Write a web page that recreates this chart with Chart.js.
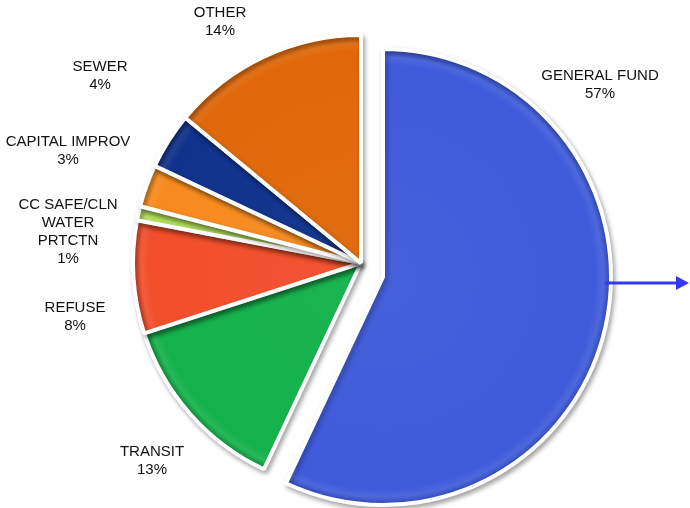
<!DOCTYPE html>
<html>
<head>
<meta charset="utf-8">
<script src="https://cdn.jsdelivr.net/npm/chart.js@4"></script>
<style>
  html, body { margin: 0; padding: 0; background: #fff; }
  #wrap { width: 690px; height: 508px; }
</style>
</head>
<body>
<div id="wrap"><canvas id="fundChart" width="690" height="508"></canvas></div>
<script>
// Fund shares (percent)
const funds = ['GENERAL FUND', 'TRANSIT', 'REFUSE', ['CC SAFE/CLN', 'WATER', 'PRTCTN'], 'CAPITAL IMPROV', 'SEWER', 'OTHER'];
const shares = [57, 13, 8, 1, 3, 4, 14];
const fills = ['#3f5bd9', '#14b24c', '#f24f2c', '#b6e35c', '#f78b1f', '#10328c', '#e0680a'];

// where each caption sits (centre of the text block)
const labelAt = [[600, 76], [152, 452], [75, 308], [68, 205], [68, 142], [100, 67], [220, 13]];

// general fund pulled out of the pie
const pullX = 22, pullY = 14;

function shade(hex, amt) {
  const n = parseInt(hex.slice(1), 16);
  const f = c => Math.max(0, Math.min(255, Math.round(amt < 0 ? c * (1 + amt) : c + (255 - c) * amt)));
  const r = f(n >> 16), g = f((n >> 8) & 255), b = f(n & 255);
  return `rgb(${r},${g},${b})`;
}

function sliceFill(c) {
  const chart = c.chart;
  const area = chart.chartArea;
  const base = fills[c.dataIndex];
  if (!area) return base;
  let cx = (area.left + area.right) / 2;
  let cy = (area.top + area.bottom) / 2;
  if (c.dataIndex === 0) { cx += pullX; cy += pullY; }
  const r = 228;
  const g = chart.ctx.createRadialGradient(cx, cy, 0, cx, cy, r);
  g.addColorStop(0, shade(base, 0.03));
  g.addColorStop(0.93, base);
  g.addColorStop(0.965, shade(base, 0.08));
  g.addColorStop(0.99, shade(base, -0.12));
  g.addColorStop(1, shade(base, -0.22));
  return g;
}

const pullOut = {
  id: 'pullOut',
  afterDatasetUpdate(chart, args) {
    const arc = chart.getDatasetMeta(args.index).data[0];
    arc.x += pullX;
    arc.y += pullY;
  }
};

const softShadow = {
  id: 'softShadow',
  beforeDatasetsDraw(chart) {
    const ctx = chart.ctx;
    ctx.save();
    ctx.shadowColor = 'rgba(0,0,0,0.3)';
    ctx.shadowBlur = 5;
    ctx.shadowOffsetX = 2;
    ctx.shadowOffsetY = 3;
  },
  afterDatasetsDraw(chart) {
    chart.ctx.restore();
  }
};

const captions = {
  id: 'captions',
  afterDraw(chart) {
    const ctx = chart.ctx;
    ctx.save();
    ctx.fillStyle = '#111';
    ctx.font = '15px "Liberation Sans", Arial, sans-serif';
    ctx.textAlign = 'center';
    ctx.textBaseline = 'middle';
    funds.forEach((name, i) => {
      const lines = [].concat(name, shares[i] + '%');
      const [x, y] = labelAt[i];
      lines.forEach((t, k) => ctx.fillText(t, x, y + k * 18));
    });

    // arrow leaving the general fund slice
    const gf = chart.getDatasetMeta(0).data[0];
    const ay = gf.y + 6;
    const x0 = gf.x + gf.outerRadius - 6;
    const x1 = 689;
    ctx.strokeStyle = '#3535f2';
    ctx.fillStyle = '#3535f2';
    ctx.lineWidth = 3;
    ctx.beginPath();
    ctx.moveTo(x0, ay);
    ctx.lineTo(x1 - 10, ay);
    ctx.stroke();
    ctx.beginPath();
    ctx.moveTo(x1, ay);
    ctx.lineTo(x1 - 13, ay - 7);
    ctx.lineTo(x1 - 13, ay + 7);
    ctx.closePath();
    ctx.fill();
    ctx.restore();
  }
};

new Chart(document.getElementById('fundChart'), {
  type: 'pie',
  data: {
    labels: funds,
    datasets: [{
      data: shares,
      backgroundColor: sliceFill,
      borderColor: '#ffffff',
      borderWidth: 4
    }]
  },
  options: {
    responsive: false,
    animation: false,
    radius: 228,
    layout: { padding: { left: 32, top: 18 } },
    plugins: {
      legend: { display: false },
      tooltip: { enabled: false }
    }
  },
  plugins: [pullOut, softShadow, captions]
});
</script>
</body>
</html>
